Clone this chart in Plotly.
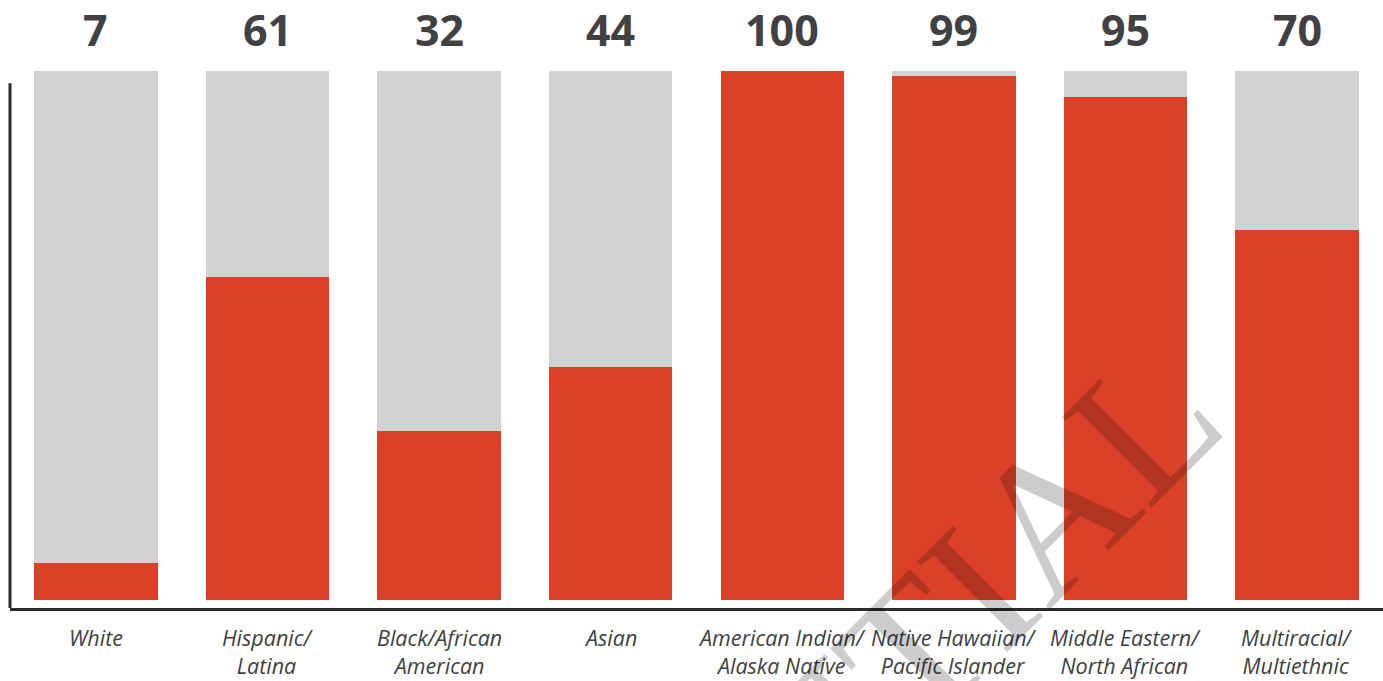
import plotly.graph_objects as go

categories = ["White", "Hispanic/<br>Latina", "Black/African<br>American", "Asian",
              "American Indian/<br>Alaska Native", "Native Hawaiian/<br>Pacific Islander",
              "Middle Eastern/<br>North African", "Multiracial/<br>Multiethnic"]
values = [7, 61, 32, 44, 100, 99, 95, 70]
remainder = [100 - v for v in values]

RED = "#DC4128"
GRAY = "#D1D2D4"

x = list(range(len(categories)))

fig = go.Figure()
fig.add_trace(go.Bar(x=x, y=values, marker=dict(color=RED, line=dict(width=0)),
                     width=0.72, showlegend=False, hoverinfo="skip"))
fig.add_trace(go.Bar(x=x, y=remainder, marker=dict(color=GRAY, line=dict(width=0)),
                     width=0.72, showlegend=False, hoverinfo="skip"))

annotations = []
for i, v in enumerate(values):
    annotations.append(dict(x=i, y=1, xref="x", yref="paper", text=str(v),
                            showarrow=False, yanchor="middle", yshift=42,
                            font=dict(family="Noto Sans, DejaVu Sans Condensed, sans-serif",
                                      size=43, color="#414143", weight="bold")))
for i, c in enumerate(categories):
    annotations.append(dict(x=i, y=0, xref="x", yref="paper", text="<i>" + c + "</i>",
                            showarrow=False, yanchor="top", yshift=-13,
                            font=dict(family="Open Sans", size=21.5, color="#3f3f41", weight=400)))

# watermark
annotations.append(dict(x=0.488, y=-0.518, xref="paper", yref="paper", text="CONFIDENTIAL",
                        showarrow=False, textangle=-45, xanchor="center", yanchor="middle",
                        font=dict(family="Liberation Serif, serif", size=195, color="rgba(0,0,0,0.2)")))

fig.update_layout(
    width=1383, height=681,
    margin=dict(l=10, r=0, t=71, b=73),
    paper_bgcolor="white", plot_bgcolor="white",
    barmode="stack", bargap=0,
    xaxis=dict(range=[-0.5, 7.5], showticklabels=False, showgrid=False, zeroline=False,
               showline=True, linecolor="#2b2b2b", linewidth=3, ticks=""),
    yaxis=dict(range=[-1.51, 100], showticklabels=False, showgrid=False, zeroline=False,
               showline=False, ticks=""),
    annotations=annotations,
    shapes=[dict(type="line", xref="paper", yref="y", x0=0, x1=0, y0=-1.51, y1=97.7,
                 line=dict(color="#2b2b2b", width=3))],
)

fig.write_html("out.html", config={"displayModeBar": False},
               post_script="document.body.style.margin='0';")
